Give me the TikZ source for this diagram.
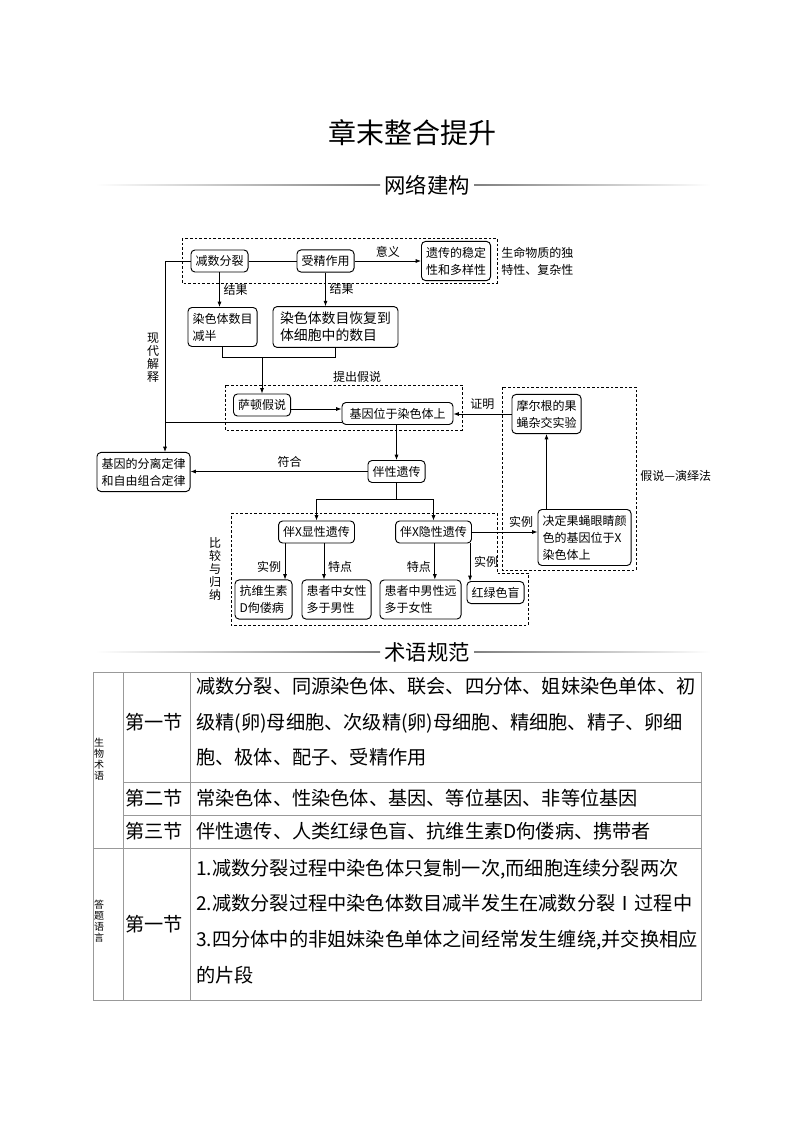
\documentclass[tikz,border=0pt]{standalone}
\usepackage{fontspec}
\setmainfont{Noto Sans CJK SC}
\usepackage{tikz}
\usetikzlibrary{arrows.meta}

\begin{document}
\begin{tikzpicture}[x=0.75pt,y=0.75pt,yscale=-1,xscale=1,
  box/.style={draw, rounded corners=3pt, line width=0.7pt, align=left, inner xsep=3.4pt, inner ysep=4.1pt, font=\fontsize{9}{12.75}\selectfont},
  lab/.style={inner sep=0.75pt, font=\fontsize{9}{11}\selectfont},
  vlab/.style={inner sep=0pt, align=center, font=\fontsize{9}{9.8}\selectfont},
  arr/.style={line width=0.55pt, -{Latex[length=4pt,width=3pt]}},
  con/.style={line width=0.55pt},
  dbox/.style={line width=0.6pt, dash pattern=on 2pt off 1.5pt},
  tline/.style={draw=black!40, line width=0.6pt},
  tsec/.style={inner sep=0pt, font=\fontsize{14.4}{16}\selectfont},
  tcell/.style={inner sep=0pt, anchor=west, align=left, font=\fontsize{14.4}{26.5}\selectfont},
  tside/.style={inner sep=0pt, align=center, font=\fontsize{7.5}{8.25}\selectfont},
  ]
\useasboundingbox (0,0) rectangle (794,1123);

% Text Node
\node [inner sep=0.75pt, font=\fontsize{21}{24}\selectfont] (title) at (412,133) {章末整合提升};
%Shape: Header lines
\shade [left color=white, right color=black!50] (95,184.4) rectangle (380,185.8);
\shade [left color=black!50, right color=white] (474,184.4) rectangle (710,185.8);
% Text Node
\node [inner sep=0.75pt, font=\fontsize{16}{18}\selectfont] (wljg) at (427,185) {网络建构};

%Shape: Dashed frames
\draw [dbox] (182,238) rectangle (497,283);
\draw [dbox] (225,385) rectangle (462,430);
\draw [dbox] (502,387) rectangle (636,570);
\draw [dbox] (231,513) -- (497,513) -- (497,573) -- (528,573) -- (528,625) -- (231,625) -- cycle;

% Boxes
\node [box] (jsfl) at (219.5,261) {减数分裂};
\node [box] (sjzy) at (325.5,261) {受精作用};
\node [box] (ycwd) at (456,261) {遗传的稳定\\性和多样性};
\node [box] (rsjb) at (222.5,327) {染色体数目\\减半};
\node [box, minimum width=93.75pt, font=\fontsize{10.4}{12.75}\selectfont] (rshf) at (335.5,327) {染色体数目恢复到\\体细胞中的数目};
\node [box] (stjs) at (262,405) {萨顿假说};
\node [box, minimum width=83.25pt] (jywy) at (397.5,413.5) {基因位于染色体上};
\node [box] (meg) at (546.5,414) {摩尔根的果\\蝇杂交实验};
\node [box] (jyfl) at (143.5,472) {基因的分离定律\\和自由组合定律};
\node [box] (bxyc) at (396.5,471.5) {伴性遗传};
\node [box] (xxyc) at (316.5,532) {伴X显性遗传};
\node [box] (yxyc) at (433.5,532) {伴X隐性遗传};
\node [box] (jdgy) at (584.5,537.5) {决定果蝇眼睛颜\\色的基因位于X\\染色体上};
\node [box] (kwss) at (263.5,599.5) {抗维生素\\D佝偻病};
\node [box] (hznx) at (336.5,599.5) {患者中女性\\多于男性};
\node [box] (hzny) at (420.5,599.5) {患者中男性远\\多于女性};
\node [box] (hlsm) at (495.5,592.5) {红绿色盲};

% Text Node
\node [lab, anchor=west, align=left, font=\fontsize{9}{12.75}\selectfont] (smwz) at (500,261) {生命物质的独\\特性、复杂性};
\node [vlab] (xdjs) at (153,358) {现\\代\\解\\释};
\node [vlab] (bjgn) at (215,569) {比\\较\\与\\归\\纳};
\node [lab, anchor=west] (jsyy) at (639,476) {假说—演绎法};
\node [lab] (tcjs) at (357,377) {提出假说};

% Connectors
\coordinate (zj) at (165,261);
\coordinate (kh) at (0,357);
\coordinate (fk) at (0,499);
\draw [con] (jsfl) -- (sjzy);
\draw [arr] (sjzy) -- (ycwd) node [lab, midway, above=2pt] (yy) {意义};
\draw [arr] (jsfl.south) -- (jsfl.south |- rsjb.north) node [lab, midway, right=2pt] (jg1) {结果};
\draw [arr] (sjzy.south) -- (sjzy.south |- rshf.north) node [lab, midway, right=2pt] (jg2) {结果};
\draw [con] (rsjb.south) -- (rsjb.south |- kh) -- (rshf.south |- kh) -- (rshf.south);
\draw [arr] (stjs.north |- kh) -- (stjs.north);
\draw [arr] ([yshift=3pt]stjs.east) coordinate (s1) -- (s1 -| jywy.west);
\draw [arr] (jsfl.west) -- (zj) -- (zj |- jyfl.north);
\draw [con] ([yshift=6.4pt]jywy.west) coordinate (j1) -- (j1 -| zj);
\draw [arr] (meg.west) -- (meg.west -| jywy.east) node [lab, midway, above=2pt] (zm) {证明};
\draw [arr] (bxyc.north |- jywy.south) -- (bxyc.north);
\draw [arr] (bxyc.west) -- (bxyc.west -| jyfl.east) node [lab, pos=0.44, above=2pt] (fh) {符合};
\draw [con] (bxyc.south) -- (bxyc.south |- fk);
\draw [con] (xxyc.north |- fk) -- (yxyc.north |- fk);
\draw [arr] (xxyc.north |- fk) -- (xxyc.north);
\draw [arr] (yxyc.north |- fk) -- (yxyc.north);
\draw [arr] (yxyc.east) -- (yxyc.east -| jdgy.west) node [lab, pos=0.75, above=2pt] (sl1) {实例};
\draw [arr] (jdgy.north -| meg.south) -- (meg.south);
\draw [arr] ([xshift=-23.6pt]xxyc.south) coordinate (a1) -- (a1 |- kwss.north) node [lab, pos=0.65, left=2pt] (sl2) {实例};
\draw [arr] ([xshift=5.6pt]xxyc.south) coordinate (a2) -- (a2 |- hznx.north) node [lab, pos=0.65, right=2pt] (td1) {特点};
\draw [arr] ([xshift=1pt]yxyc.south) coordinate (a3) -- (a3 |- hzny.north) node [lab, pos=0.65, left=2pt] (td2) {特点};
\draw [arr] ([xshift=27.4pt]yxyc.south) coordinate (a4) -- (a4 |- hlsm.north) node [lab, pos=0.5, right=2pt] (sl3) {实例};

%Shape: Header lines
\shade [left color=white, right color=black!50] (95,651.4) rectangle (380,652.8);
\shade [left color=black!50, right color=white] (474,651.4) rectangle (710,652.8);
% Text Node
\node [inner sep=0.75pt, font=\fontsize{16}{18}\selectfont] (syff) at (427,652) {术语规范};

%Shape: Table
\draw [tline] (93,672) rectangle (701,1000);
\foreach \x in {123,190} \draw [tline] (\x,672) -- (\x,1000);
\foreach \y in {782,815} \draw [tline] (123,\y) -- (701,\y);
\draw [tline] (93,848) -- (701,848);

% Text Node
\node [tside] (swsy) at (99,759) {生\\物\\术\\语};
\node [tside] (dtyy) at (99,921) {答\\题\\语\\言};
\node [tsec] (dyj) at (154,722) {第一节};
\node [tsec] (dej) at (154,798) {第二节};
\node [tsec] (dsj) at (154,831) {第三节};
\node [tsec] (dyj2) at (154,924) {第一节};
\node [tcell] (sy1) at (196,722) {减数分裂、同源染色体、联会、四分体、姐妹染色单体、初\\级精(卵)母细胞、次级精(卵)母细胞、精细胞、精子、卵细\\胞、极体、配子、受精作用};
\node [tcell] (sy2) at (196,798) {常染色体、性染色体、基因、等位基因、非等位基因};
\node [tcell] (sy3) at (196,831) {伴性遗传、人类红绿色盲、抗维生素D佝偻病、携带者};
\node [tcell, font=\fontsize{14.4}{26.8}\selectfont] (dt1) at (196,921.5) {1.减数分裂过程中染色体只复制一次,而细胞连续分裂两次\\2.减数分裂过程中染色体数目减半发生在减数分裂Ⅰ过程中\\3.四分体中的非姐妹染色单体之间经常发生缠绕,并交换相应\\的片段};

\end{tikzpicture}
\end{document}
